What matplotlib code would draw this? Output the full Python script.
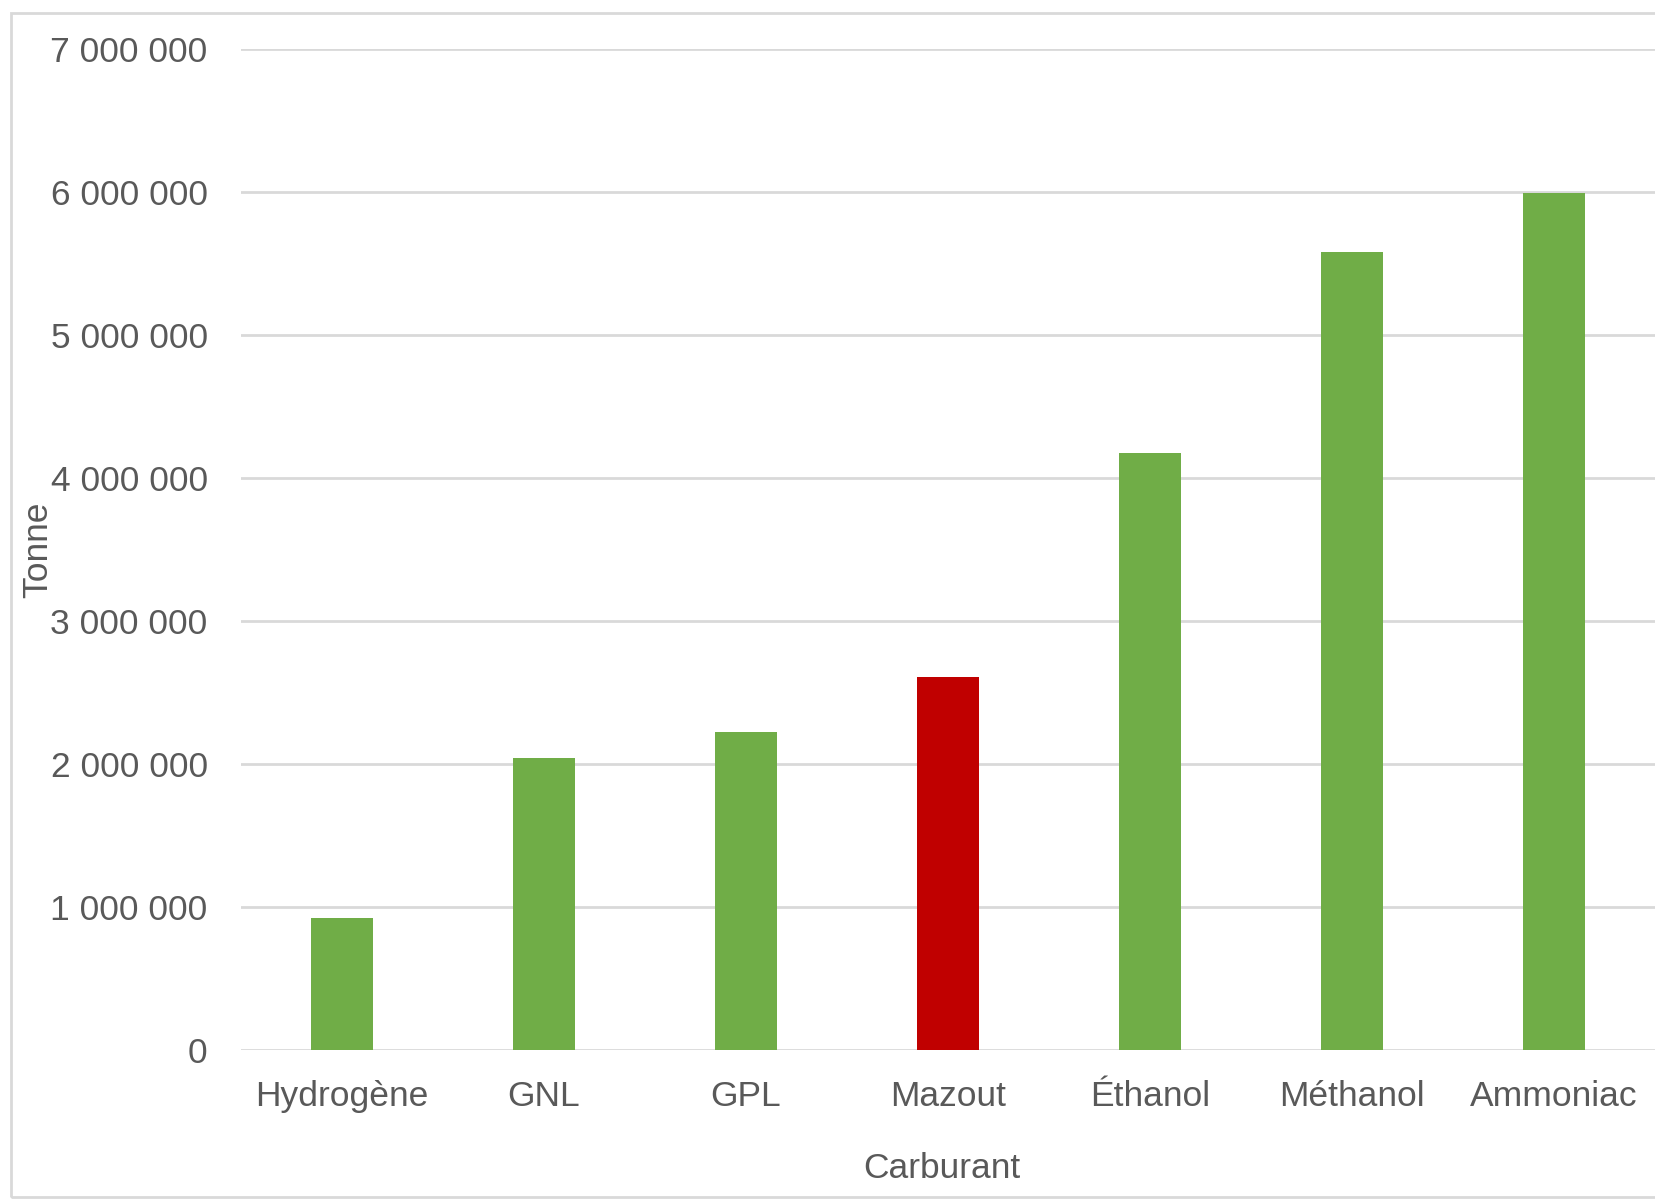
import matplotlib
matplotlib.use("Agg")
import matplotlib.pyplot as plt
from matplotlib.patches import Rectangle
from matplotlib.ticker import FuncFormatter

categories = ["Hydrogène", "GNL", "GPL", "Mazout", "Éthanol", "Méthanol", "Ammoniac"]
values = [920000, 2040000, 2220000, 2610000, 4170000, 5580000, 5990000]
highlight = "Mazout"

plt.rcParams['font.family'] = ['Liberation Sans', 'DejaVu Sans']
text_color = "#595959"
green = "#70AD47"
red = "#C00000"
fs = 25.5

fig = plt.figure(figsize=(16.55, 11.99), dpi=100)
ax = fig.add_axes([0.1456, 0.1243, 1.0 - 0.1456, 0.9595 - 0.1243])

colors = [red if c == highlight else green for c in categories]
x = list(range(len(categories)))
ax.bar(x, values, width=0.31, color=colors, zorder=3)

ax.set_xlim(-0.5, len(categories) - 0.5)
ax.set_ylim(0, 7000000)
ax.set_yticks(range(0, 7000001, 1000000))
ax.yaxis.set_major_formatter(FuncFormatter(lambda v, p: f"{int(v):,}".replace(",", " ")))
ax.set_xticks(x)
ax.set_xticklabels(categories)

ax.grid(axis='y', color="#D9D9D9", linewidth=2, zorder=0)
ax.grid(axis='x', visible=False)
for s in ax.spines.values():
    s.set_visible(False)
ax.tick_params(axis='both', length=0, labelsize=fs, colors=text_color)
ax.tick_params(axis='y', pad=24)
ax.tick_params(axis='x', pad=21.5)

fig.text(38 / 1655, 0.5 * (0.1243 + 0.9595), "Tonne", rotation=90, ha='center', va='center',
         fontsize=fs, color=text_color)
fig.text(941.5 / 1655, 1 - 1169 / 1199, "Carburant", ha='center', va='center',
         fontsize=fs, color=text_color)

fig.patches.append(Rectangle((11 / 1655, 1 - 1197 / 1199), 1.2, (1197 - 12.5) / 1199,
                             transform=fig.transFigure, fill=False, edgecolor="#D9D9D9",
                             linewidth=2))

fig.savefig("out.png", dpi=100)
